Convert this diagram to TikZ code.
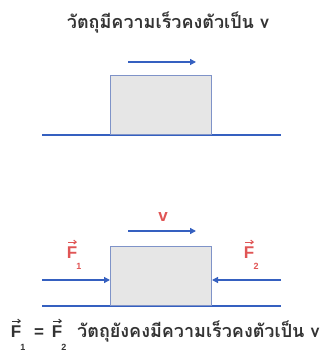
\documentclass[tikz,border=0pt]{standalone}
\usepackage{fontspec}
\setmainfont{Liberation Sans}
\newfontfamily\thaifont[Script=Thai]{Loma}
\usetikzlibrary{arrows.meta}
\definecolor{blu}{HTML}{3560C0}
\definecolor{boxed}{HTML}{7F93C8}
\definecolor{boxfill}{HTML}{E6E6E6}
\definecolor{fred}{HTML}{E05555}
\definecolor{txt}{HTML}{333333}
\tikzset{
  ground/.style={draw=blu, line width=1.2pt},
  body/.style={draw=boxed, fill=boxfill, line width=1pt},
  vel/.style={draw=blu, line width=1.3pt, -{Triangle[length=6pt,width=6pt]}},
  thai/.style={text=txt, font=\thaifont\bfseries\fontsize{18}{20}\selectfont, inner sep=0pt},
  flab/.style={text=fred, font=\bfseries\fontsize{17}{19}\selectfont, inner sep=0pt},
  fsub/.style={text=fred, font=\bfseries\fontsize{9}{10}\selectfont, inner sep=0pt},
  vecarr/.style={draw=fred, line width=1pt, -{Straight Barb[length=2.5pt,width=4pt]}},
  blab/.style={text=txt, font=\bfseries\fontsize{17}{19}\selectfont, inner sep=0pt},
  bsub/.style={text=txt, font=\bfseries\fontsize{9}{10}\selectfont, inner sep=0pt},
  barr/.style={draw=txt, line width=1pt, -{Straight Barb[length=2.5pt,width=4pt]}}
}
\begin{document}
\begin{tikzpicture}[x=1pt,y=-1pt]
\useasboundingbox (0,0) rectangle (325,352);
% top
\node[thai, anchor=base] (title) at (168,29) {วัตถุมีความเร็วคงตัวเป็น v};
\coordinate (g1l) at (42,135);
\coordinate (g1r) at (281,135);
\draw[ground] (g1l) -- (g1r);
\node[body, minimum width=101pt, minimum height=59pt, anchor=south west] (b1) at (110,135) {};
\coordinate (v1s) at (128,62);
\coordinate (v1e) at (196,62);
\draw[vel] (v1s) -- (v1e);
% bottom
\node[flab, anchor=base] (vlab) at (163,221) {v};
\coordinate (v2s) at (128,231);
\coordinate (v2e) at (196,231);
\draw[vel] (v2s) -- (v2e);
\coordinate (g2l) at (42,306);
\coordinate (g2r) at (281,306);
\draw[ground] (g2l) -- (g2r);
\node[body, minimum width=101pt, minimum height=59pt, anchor=south west] (b2) at (110,306) {};
\coordinate (f1s) at (42,280);
\coordinate (f2s) at (281,280);
\draw[vel] (f1s) -- (b2.west |- f1s);
\draw[vel] (f2s) -- (b2.east |- f2s);
% F labels
\node[flab, anchor=base] (F1) at (72,258) {F};
\node[fsub] (F1s) at (79,266) {1};
\draw[vecarr] ([yshift=4pt,xshift=-4pt]F1.north) -- ([yshift=4pt,xshift=5pt]F1.north);
\node[flab, anchor=base] (F2) at (249,258) {F};
\node[fsub] (F2s) at (256,266) {2};
\draw[vecarr] ([yshift=4pt,xshift=-4pt]F2.north) -- ([yshift=4pt,xshift=5pt]F2.north);
% bottom caption
\node[blab, anchor=base] (B1) at (16,337) {F};
\node[bsub] (B1s) at (23,347) {1};
\draw[barr] ([yshift=4pt,xshift=-4pt]B1.north) -- ([yshift=4pt,xshift=5pt]B1.north);
\node[blab, anchor=base] (eq) at (39,337) {=};
\node[blab, anchor=base] (B2) at (57,337) {F};
\node[bsub] (B2s) at (64,347) {2};
\draw[barr] ([yshift=4pt,xshift=-4pt]B2.north) -- ([yshift=4pt,xshift=5pt]B2.north);
\node[thai, anchor=base west] (cap) at (77,337) {วัตถุยังคงมีความเร็วคงตัวเป็น v};
\end{tikzpicture}
\end{document}
